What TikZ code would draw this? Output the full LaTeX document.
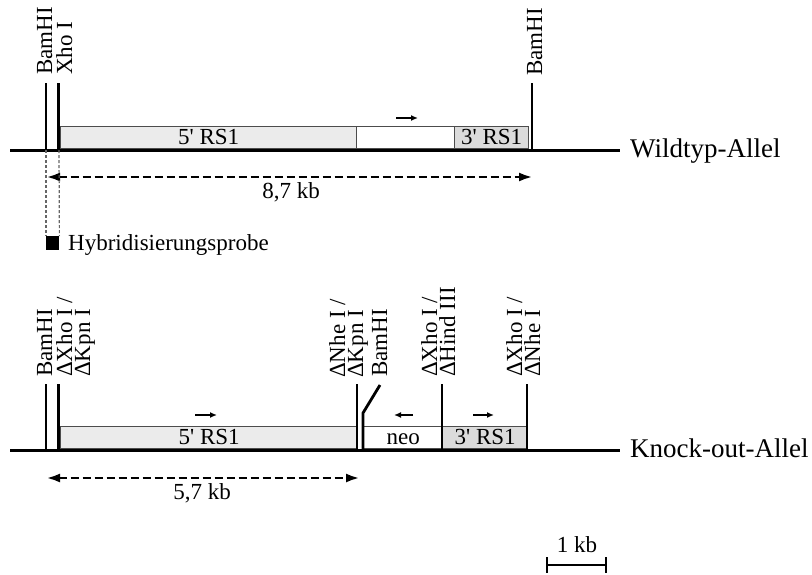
\documentclass[tikz,border=0pt]{standalone}
\usepackage{fontspec}
\setmainfont{Liberation Serif}
\usetikzlibrary{arrows.meta}
\definecolor{rsfive}{gray}{0.92}
\definecolor{rsthree}{gray}{0.86}
\definecolor{edgegray}{gray}{0.3}

\begin{document}
\begin{tikzpicture}[
    x=1pt, y=-1pt,
    dna/.style={line width=3pt},
    site/.style={line width=2.8pt},
    seg/.style={rectangle, draw=edgegray, line width=1.4pt, inner sep=0pt, anchor=south west,
        minimum height=22pt, text height=15pt, text depth=0pt, font=\fontsize{23}{23}\selectfont},
    lab/.style={rotate=90, anchor=base west, inner sep=0pt, align=left, font=\fontsize{23}{18}\selectfont},
    allel/.style={anchor=base west, inner sep=0pt, font=\fontsize{27}{27}\selectfont},
    txt/.style={inner sep=0pt, font=\fontsize{23}{23}\selectfont},
    span/.style={{Latex[length=14pt,width=9pt]}-{Latex[length=14pt,width=9pt]}, line width=2.8pt, dash pattern=on 8pt off 4pt},
    dir/.style={-{Latex[length=7pt,width=6pt]}, line width=1.6pt},
    probeline/.style={line width=1.2pt, black!60, dash pattern=on 3pt off 2pt}
]
    \useasboundingbox (0,0) rectangle (812,574);

    % Wildtyp-Allel
    \draw[dna] (10,150) -- (620,150);
    \node[seg, fill=rsfive, minimum width=296pt] (wt5) at (60,149) {5\textquotesingle{} RS1};
    \node[seg, fill=white, minimum width=98pt] (wtmid) at (356,149) {};
    \node[seg, fill=rsthree, minimum width=74pt] (wt3) at (454,149) {3\textquotesingle{} RS1};
    \draw[site] (46,83) -- (46,150);
    \draw[site] (58.5,83) -- (58.5,150);
    \draw[site] (532,83) -- (532,150);
    \node[lab] (wtbam) at (52,75) {BamHI};
    \node[lab] (wtxho) at (72,75) {Xho I};
    \node[lab] (wtbamr) at (542,76) {BamHI};
    \draw[dir] (396,118) -- (418,118);
    \node[allel] (wt) at (630,157) {Wildtyp-Allel};

    % Fragment und Sonde
    \coordinate (wtL) at (46,177);
    \coordinate (wtR) at (533,177);
    \draw[span] (wtL) -- (wtR);
    \node[txt, anchor=base] (wtkb) at (291,198) {8,7 kb};
    \node[fill=black, inner sep=0pt, minimum width=13pt, minimum height=14pt, anchor=north west] (probe) at (46,236) {};
    \coordinate (pL) at (46,150);
    \coordinate (pR) at (59,150);
    \draw[probeline] (pL) -- (probe.north west);
    \draw[probeline] (pR) -- (probe.north east);
    \node[txt, anchor=base west] (probetxt) at (68,250) {Hybridisierungsprobe};

    % Knock-out-Allel
    \draw[dna] (10,450) -- (620,450);
    \node[seg, fill=rsfive, minimum width=297pt] (ko5) at (60,449) {5\textquotesingle{} RS1};
    \node[seg, fill=white, minimum width=79pt] (koneo) at (363,449) {neo};
    \node[seg, fill=rsthree, minimum width=85pt] (ko3) at (442,449) {3\textquotesingle{} RS1};
    \draw[site] (46,384) -- (46,450);
    \draw[site] (58.5,384) -- (58.5,450);
    \draw[site] (357,384) -- (357,450);
    \draw[site] (363,450) -- (363,413) -- (380,385);
    \draw[site] (442,384) -- (442,450);
    \draw[site] (527,384) -- (527,450);
    \node[lab] (kobam) at (52,377) {BamHI};
    \node[lab] (koxho) at (90,377) {ΔXho I /\\ΔKpn I};
    \node[lab] (konhe) at (363,378) {ΔNhe I /\\ΔKpn I};
    \node[lab] (kobamm) at (387,377) {BamHI};
    \node[lab] (kohind) at (455,377) {ΔXho I /\\ΔHind III};
    \node[lab] (koxhon) at (540,377) {ΔXho I /\\ΔNhe I};
    \draw[dir] (195,415) -- (217,415);
    \draw[dir] (413,415) -- (394,415);
    \draw[dir] (473,415) -- (494,415);
    \node[allel] (ko) at (630,457) {Knock-out-Allel};

    % Fragment
    \coordinate (koL) at (46,478);
    \coordinate (koR) at (360,478);
    \draw[span] (koL) -- (koR);
    \node[txt, anchor=base] (kokb) at (202,499) {5,7 kb};

    % Massstab
    \coordinate (sbL) at (547,565);
    \coordinate (sbR) at (606,565);
    \draw[line width=2.8pt] (sbL) -- (sbR);
    \draw[line width=2.8pt] (547,557) -- (547,573);
    \draw[line width=2.8pt] (606,557) -- (606,573);
    \node[txt, anchor=base] (sbtxt) at (577,552) {1 kb};
\end{tikzpicture}
\end{document}
